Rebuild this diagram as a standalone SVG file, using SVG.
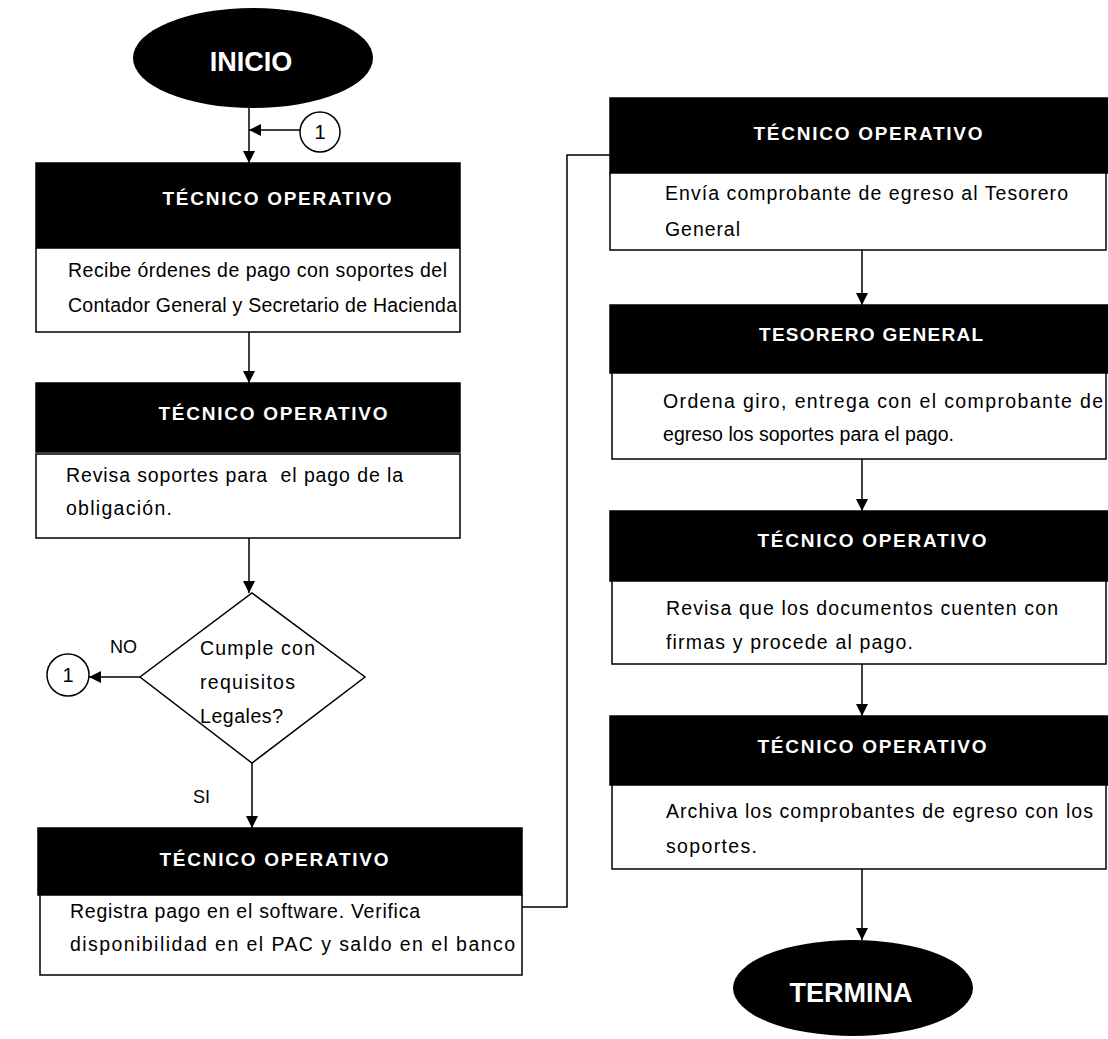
<svg xmlns="http://www.w3.org/2000/svg" width="1108" height="1039" viewBox="0 0 1108 1039">
<defs>
<marker id="ah" viewBox="0 0 12 12" refX="12" refY="6" markerWidth="12" markerHeight="12" markerUnits="userSpaceOnUse" orient="auto">
<path d="M0,0 L12,6 L0,12 Z" fill="#000"/>
</marker>
<style>
.hd{fill:#000;stroke:#000;stroke-width:1.5}
.bd{fill:#fff;stroke:#000;stroke-width:1.5}
.ht{fill:#fff;font-family:"Liberation Sans",Arial,sans-serif;font-weight:bold;font-size:19px;text-anchor:middle}
.bt{fill:#000;font-family:"Liberation Sans",Arial,sans-serif;font-size:19.5px}
.term{fill:#000}
.tt{fill:#fff;font-family:"Liberation Sans",Arial,sans-serif;font-weight:bold;font-size:27px;text-anchor:middle}
.ln{fill:none;stroke:#000;stroke-width:1.5}
.cc{fill:#fff;stroke:#000;stroke-width:1.5}
.ct{fill:#000;font-family:"Liberation Sans",Arial,sans-serif;font-size:20px;text-anchor:middle}
.lb{fill:#000;font-family:"Liberation Sans",Arial,sans-serif;font-size:18px}
</style>
</defs>
<rect width="1108" height="1039" fill="#fff"/>

<g id="connectors">
<line class="ln" x1="249" y1="108" x2="249" y2="163" marker-end="url(#ah)"/>
<line class="ln" x1="300" y1="130" x2="249" y2="130" marker-end="url(#ah)"/>
<line class="ln" x1="249" y1="332" x2="249" y2="383" marker-end="url(#ah)"/>
<line class="ln" x1="249" y1="538" x2="249" y2="593" marker-end="url(#ah)"/>
<line class="ln" x1="140" y1="677" x2="89" y2="677" marker-end="url(#ah)"/>
<line class="ln" x1="252" y1="763" x2="252" y2="828" marker-end="url(#ah)"/>
<polyline class="ln" points="522,907 567,907 567,155 610,155"/>
<line class="ln" x1="862" y1="250" x2="862" y2="305" marker-end="url(#ah)"/>
<line class="ln" x1="862" y1="459" x2="862" y2="511" marker-end="url(#ah)"/>
<line class="ln" x1="862" y1="664" x2="862" y2="716" marker-end="url(#ah)"/>
<line class="ln" x1="862" y1="869" x2="862" y2="940" marker-end="url(#ah)"/>
<text class="lb" x="110" y="653">NO</text>
<text class="lb" x="193" y="803">SI</text>
</g>

<g id="inicio">
<ellipse class="term" cx="253" cy="58" rx="120" ry="50"/>
<text class="tt" x="251" y="71">INICIO</text>
</g>

<g id="conn1-top">
<circle class="cc" cx="320" cy="132" r="20"/>
<text class="ct" x="320" y="139">1</text>
</g>

<g id="box1">
<rect class="hd" x="36" y="163" width="424" height="85"/>
<text class="ht" x="277" y="205" textLength="229">TÉCNICO OPERATIVO</text>
<rect class="bd" x="36" y="248" width="424" height="84"/>
<text class="bt" x="68" y="277" textLength="379">Recibe órdenes de pago con soportes del</text>
<text class="bt" x="68" y="312" textLength="389">Contador General y Secretario de Hacienda</text>
</g>

<g id="box2">
<rect class="hd" x="36" y="383" width="424" height="69"/>
<text class="ht" x="273" y="420" textLength="229">TÉCNICO OPERATIVO</text>
<rect class="bd" x="36" y="454" width="424" height="84"/>
<text class="bt" x="66" y="482" textLength="337" xml:space="preserve">Revisa soportes para  el pago de la</text>
<text class="bt" x="66" y="515" textLength="106">obligación.</text>
</g>

<g id="decision">
<polygon class="bd" points="252,593 365,677 252,763 140,677"/>
<text class="bt" x="200" y="655" textLength="115">Cumple con</text>
<text class="bt" x="200" y="689" textLength="95">requisitos</text>
<text class="bt" x="200" y="723" textLength="83">Legales?</text>
</g>

<g id="conn1-left">
<circle class="cc" cx="68" cy="675" r="21"/>
<text class="ct" x="68" y="682">1</text>
</g>

<g id="box3">
<rect class="hd" x="38" y="828" width="484" height="67"/>
<text class="ht" x="274" y="866" textLength="229">TÉCNICO OPERATIVO</text>
<rect class="bd" x="40" y="895" width="482" height="80"/>
<text class="bt" x="70" y="918" textLength="350">Registra pago en el software. Verifica</text>
<text class="bt" x="70" y="951" textLength="445">disponibilidad en el PAC y saldo en el banco</text>
</g>

<g id="box4">
<rect class="hd" x="610" y="98" width="498" height="75"/>
<text class="ht" x="868" y="140" textLength="229">TÉCNICO OPERATIVO</text>
<rect class="bd" x="610" y="173" width="496" height="77"/>
<text class="bt" x="665" y="200" textLength="403">Envía comprobante de egreso al Tesorero</text>
<text class="bt" x="665" y="236" textLength="75">General</text>
</g>

<g id="box5">
<rect class="hd" x="610" y="305" width="498" height="68"/>
<text class="ht" x="871" y="341" textLength="224">TESORERO GENERAL</text>
<rect class="bd" x="612" y="373" width="494" height="86"/>
<text class="bt" x="663" y="408" textLength="440">Ordena giro, entrega con el comprobante de</text>
<text class="bt" x="663" y="441" textLength="291">egreso los soportes para el pago.</text>
</g>

<g id="box6">
<rect class="hd" x="610" y="511" width="498" height="70"/>
<text class="ht" x="872" y="547" textLength="229">TÉCNICO OPERATIVO</text>
<rect class="bd" x="612" y="581" width="494" height="83"/>
<text class="bt" x="666" y="615" textLength="392">Revisa que los documentos cuenten con</text>
<text class="bt" x="666" y="649" textLength="247">firmas y procede al pago.</text>
</g>

<g id="box7">
<rect class="hd" x="610" y="716" width="498" height="69"/>
<text class="ht" x="872" y="753" textLength="229">TÉCNICO OPERATIVO</text>
<rect class="bd" x="612" y="785" width="494" height="84"/>
<text class="bt" x="666" y="818" textLength="427">Archiva los comprobantes de egreso con los</text>
<text class="bt" x="666" y="853" textLength="91">soportes.</text>
</g>

<g id="termina">
<ellipse class="term" cx="853" cy="988" rx="120" ry="48"/>
<text class="tt" x="851" y="1002">TERMINA</text>
</g>
</svg>
